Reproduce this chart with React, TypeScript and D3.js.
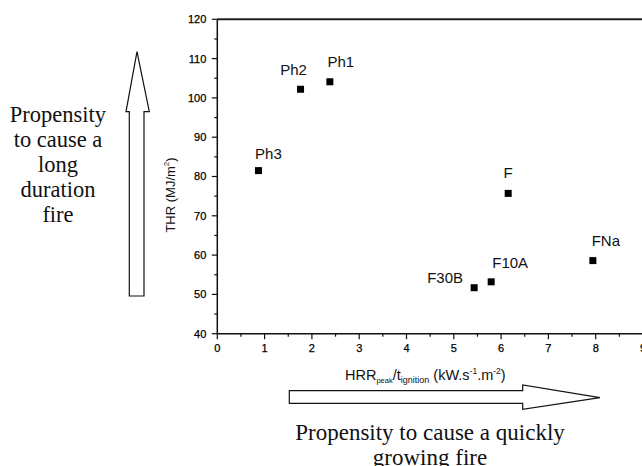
import React from "react";
import * as d3 from "d3";

const samples = ["Ph3", "Ph2", "Ph1", "F", "F30B", "F10A", "FNa"];
const hrrRatio = [0.87, 1.76, 2.38, 6.15, 5.43, 5.79, 7.94];
const thr = [81.5, 102.2, 104.1, 75.7, 51.7, 53.2, 58.6];
const xTicks = [0, 1, 2, 3, 4, 5, 6, 7, 8, 9];
const yTicks = [40, 50, 60, 70, 80, 90, 100, 110, 120];
const leftNote = ["Propensity", "to cause a", "long", "duration", "fire"];
const bottomNote = ["Propensity to cause a quickly", "growing fire"];

// label offsets (layout only)
const labelDx = [10, -7, 11, 0, -29, 19, 13];
const labelDy = [-12, -14, -15, -15, -5, -14, -15];

const W = 642;
const H = 466;
const x0 = 217.3;
const x1 = 643;
const yTop = 19.3;
const yBot = 333.7;

export default function App() {
  const x = d3.scaleLinear().domain([0, 9]).range([x0, x1]);
  const y = d3.scaleLinear().domain([40, 120]).range([yBot, yTop]);
  const xMinor = d3.range(0, 9.01, 0.5);
  const yMinor = d3.range(40, 120.01, 5);
  const sans = "Arial, 'Liberation Sans', Helvetica, sans-serif";
  const serif = "'Times New Roman', 'Liberation Serif', serif";

  const vArrow = [
    [129.3, 296], [129.3, 111.7], [126, 111.7], [137, 51.7], [149.3, 111.7], [144, 111.7], [144, 296],
  ];
  const hArrow = [
    [289.3, 390.7], [522.7, 390.7], [522.7, 385], [600, 397.7], [522.7, 409.3], [522.7, 403.3], [289.3, 403.3],
  ];
  const line = d3.line();

  return (
    <svg
      width={W}
      height={H}
      style={{ position: "absolute", left: 0, top: 0, background: "#fff", overflow: "hidden" }}
      fontFamily={sans}
    >
      <rect x={0} y={0} width={W} height={H} fill="#fff" />
      {/* frame */}
      <line x1={x0} x2={W} y1={yTop} y2={yTop} stroke="#222" strokeWidth={2} />
      <line x1={x0} x2={x0} y1={yTop} y2={yBot} stroke="#111" strokeWidth={1.5} />
      <line x1={x0} x2={W} y1={yBot} y2={yBot} stroke="#111" strokeWidth={1.5} />
      <line x1={x1} x2={x1} y1={yTop} y2={yBot} stroke="#111" strokeWidth={1.5} />
      {/* y ticks */}
      {yMinor.map((v) => (
        <line key={"ym" + v} x1={x0} x2={x0 - (v % 10 === 0 ? 5.5 : 3)} y1={y(v)} y2={y(v)} stroke="#111" strokeWidth={1.2} />
      ))}
      {yTicks.map((v) => (
        <text key={"yt" + v} x={x0 - 11} y={y(v)} dy="0.36em" textAnchor="end" fontSize={11} fill="#000" stroke="#000" strokeWidth={0.25}>
          {v}
        </text>
      ))}
      {/* x ticks */}
      {xMinor.map((v) => (
        <line key={"xm" + v} x1={x(v)} x2={x(v)} y1={yBot} y2={yBot + (v % 1 === 0 ? 5.5 : 3)} stroke="#111" strokeWidth={1.2} />
      ))}
      {xTicks.map((v) => (
        <text key={"xt" + v} x={x(v)} y={yBot + 18} textAnchor="middle" fontSize={11} fill="#000" stroke="#000" strokeWidth={0.25}>
          {v}
        </text>
      ))}
      {/* axis titles */}
      <text transform="translate(174.5,195) rotate(-90)" textAnchor="middle" fontSize={13} fill="#111">
        THR (MJ/m<tspan fontSize={8} dy={-6}>2</tspan>
        <tspan dy={6}>)</tspan>
      </text>
      <text x={345} y={380} fontSize={14.5} fill="#111">
        HRR<tspan fontSize={7.5} dy={3}>peak</tspan>
        <tspan dy={-3}>/t</tspan>
        <tspan fontSize={9} dy={3}>ignition</tspan>
        <tspan dy={-3}> (kW.s</tspan>
        <tspan fontSize={8.5} dy={-6}>-1</tspan>
        <tspan dy={6}>.m</tspan>
        <tspan fontSize={8.5} dy={-6}>-2</tspan>
        <tspan dy={6}>)</tspan>
      </text>
      {/* points */}
      {samples.map((s, i) => (
        <g key={s}>
          <rect x={x(hrrRatio[i]) - 3.5} y={y(thr[i]) - 3.5} width={7} height={7} fill="#000" />
          <text x={x(hrrRatio[i]) + labelDx[i]} y={y(thr[i]) + labelDy[i]} textAnchor="middle" fontSize={15} fill="#111">
            {s}
          </text>
        </g>
      ))}
      {/* arrows */}
      <path d={line(vArrow as [number, number][]) + "Z"} fill="#fff" stroke="#111" strokeWidth={1.2} />
      <path d={line(hArrow as [number, number][]) + "Z"} fill="#fff" stroke="#111" strokeWidth={1.2} />
      {/* notes */}
      {leftNote.map((t, i) => (
        <text key={t} x={58} y={121.7 + i * 25} textAnchor="middle" fontFamily={serif} fontSize={22.5} fill="#111">
          {t}
        </text>
      ))}
      {bottomNote.map((t, i) => (
        <text key={t} x={430} y={440 + i * 25} textAnchor="middle" fontFamily={serif} fontSize={23} fill="#111">
          {t}
        </text>
      ))}
    </svg>
  );
}
